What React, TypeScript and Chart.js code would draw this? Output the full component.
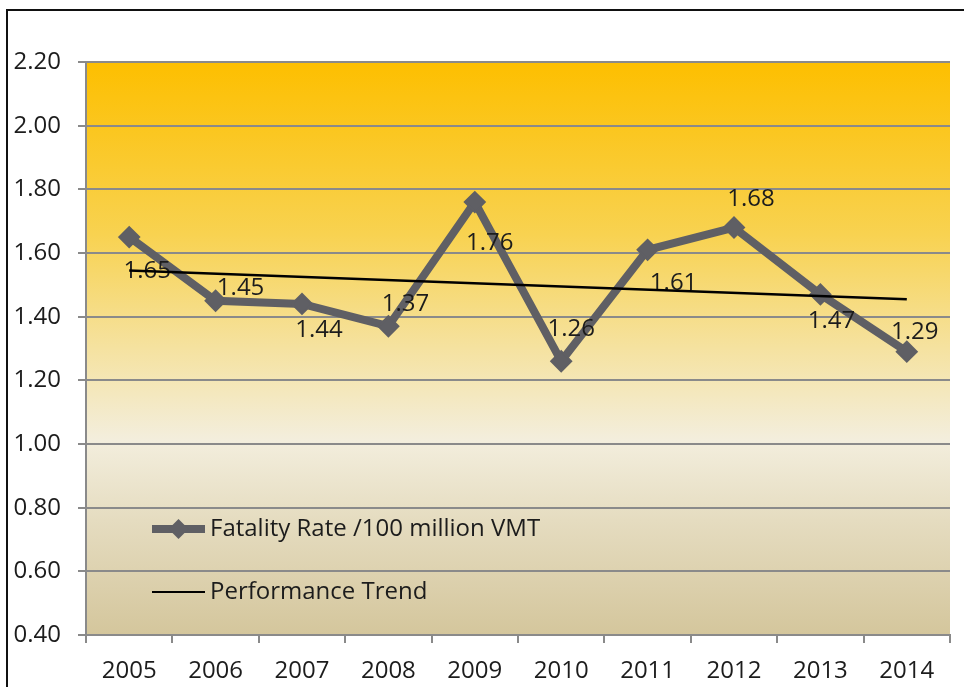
import React, { useEffect, useRef } from "react";
import { Chart, registerables } from "chart.js";

Chart.register(...registerables);

const years = ["2005", "2006", "2007", "2008", "2009", "2010", "2011", "2012", "2013", "2014"];
const fatalityRate = [1.65, 1.45, 1.44, 1.37, 1.76, 1.26, 1.61, 1.68, 1.47, 1.29];
const trendValues = [1.545, null, null, null, null, null, null, null, null, 1.455];
const yTicks = [0.4, 0.6, 0.8, 1.0, 1.2, 1.4, 1.6, 1.8, 2.0, 2.2];
const seriesNames = ["Fatality Rate /100 million VMT", "Performance Trend"];

const FONT = "'Open Sans', sans-serif";
const FS = 24;
const LINE_GRAY = "#5f5f64";
const TEXT = "#1c1c1c";

// label placement offsets (px) relative to each point
const labelOffsets = [
  [18, 34], [25, -13], [17, 26], [17, -22], [15, 41],
  [10, -32], [26, 33], [17, -28], [11, 27], [8, -20],
];

const deco = {
  id: "deco",
  beforeDraw(chart: any) {
    const { ctx, chartArea: a } = chart;
    ctx.save();
    ctx.fillStyle = "#ffffff";
    ctx.fillRect(0, 0, chart.width, chart.height);
    const g = ctx.createLinearGradient(0, a.top, 0, a.bottom);
    g.addColorStop(0, "#fdbf00");
    g.addColorStop(0.3, "#f8d250");
    g.addColorStop(0.5, "#f5e2a0");
    g.addColorStop(0.66, "#f3eedd");
    g.addColorStop(0.8, "#e5dcc0");
    g.addColorStop(1, "#d4c69c");
    ctx.fillStyle = g;
    ctx.fillRect(a.left, a.top, a.right - a.left, a.bottom - a.top);
    // frame lines
    ctx.fillStyle = "#111";
    ctx.fillRect(6, 9, chart.width - 6, 2);
    ctx.fillRect(6, 9, 2, chart.height - 9);
    ctx.restore();
  },
  afterDatasetDraw(chart: any, args: any) {
    if (args.index !== 0) return;
    const { ctx } = chart;
    const meta = chart.getDatasetMeta(0);
    ctx.save();
    ctx.font = `${FS}px ${FONT}`;
    ctx.fillStyle = TEXT;
    ctx.textAlign = "center";
    ctx.textBaseline = "middle";
    meta.data.forEach((pt: any, i: number) => {
      const [dx, dy] = labelOffsets[i];
      ctx.fillText(fatalityRate[i].toFixed(2), pt.x + dx, pt.y + dy);
    });
    ctx.restore();
  },
  afterDraw(chart: any) {
    const { ctx, chartArea: a } = chart;
    const x0 = a.left + 66;
    const x1 = a.left + 119;
    const y1 = 529;
    const y2 = 592;
    ctx.save();
    // item 1
    ctx.strokeStyle = LINE_GRAY;
    ctx.lineWidth = 8;
    ctx.beginPath();
    ctx.moveTo(x0, y1);
    ctx.lineTo(x1, y1);
    ctx.stroke();
    ctx.fillStyle = LINE_GRAY;
    const cx = (x0 + x1) / 2;
    ctx.beginPath();
    ctx.moveTo(cx, y1 - 10);
    ctx.lineTo(cx + 10, y1);
    ctx.lineTo(cx, y1 + 10);
    ctx.lineTo(cx - 10, y1);
    ctx.closePath();
    ctx.fill();
    // item 2
    ctx.strokeStyle = "#000";
    ctx.lineWidth = 2;
    ctx.beginPath();
    ctx.moveTo(x0, y2);
    ctx.lineTo(x1, y2);
    ctx.stroke();
    ctx.font = `${FS}px ${FONT}`;
    ctx.fillStyle = TEXT;
    ctx.textAlign = "left";
    ctx.textBaseline = "middle";
    ctx.fillText(seriesNames[0], x1 + 5, y1);
    ctx.fillText(seriesNames[1], x1 + 5, y2);
    ctx.restore();
  },
};

export default function App() {
  const ref = useRef<HTMLCanvasElement | null>(null);
  useEffect(() => {
    document.body.style.margin = "0";
    const chart = new Chart(ref.current as HTMLCanvasElement, {
      type: "line",
      data: {
        labels: years,
        datasets: [
          {
            label: seriesNames[0],
            data: fatalityRate,
            borderColor: LINE_GRAY,
            backgroundColor: LINE_GRAY,
            borderWidth: 8,
            pointStyle: "rectRot",
            pointRadius: 10,
            pointBorderWidth: 2,
            pointBorderColor: LINE_GRAY,
            pointBackgroundColor: LINE_GRAY,
            tension: 0,
            order: 2,
          },
          {
            label: seriesNames[1],
            data: trendValues,
            borderColor: "#000",
            borderWidth: 2.5,
            pointRadius: 0,
            spanGaps: true,
            tension: 0,
            order: 1,
          },
        ],
      },
      options: {
        responsive: false,
        animation: false,
        layout: { padding: { top: 62, right: 14, left: 0, bottom: 0 } },
        plugins: {
          legend: { display: false },
          tooltip: { enabled: false },
        },
        scales: {
          x: {
            offset: true,
            grid: {
              offset: true,
              drawOnChartArea: false,
              drawTicks: true,
              tickLength: 8,
              color: "#8a8a8a",
              lineWidth: 2,
            },
            border: { display: true, color: "#8a8a8a", width: 2 },
            ticks: {
              font: { family: FONT, size: FS },
              color: TEXT,
              padding: 14,
              maxRotation: 0,
            },
            afterFit(scale: any) {
              scale.height = 52;
            },
          },
          y: {
            min: 0.4,
            max: 2.2,
            afterBuildTicks(scale: any) {
              scale.ticks = yTicks.map((v) => ({ value: v }));
            },
            grid: {
              color: "#8a8a8a",
              lineWidth: 2,
              tickLength: 8,
            },
            border: { display: true, color: "#8a8a8a", width: 2 },
            ticks: {
              font: { family: FONT, size: FS },
              color: TEXT,
              padding: 17,
              callback: (v: any) => Number(v).toFixed(2),
            },
            afterFit(scale: any) {
              scale.width = 86;
            },
          },
        },
      },
      plugins: [deco],
    });
    return () => chart.destroy();
  }, []);
  return <canvas ref={ref} width={964} height={687} style={{ display: "block" }} />;
}
